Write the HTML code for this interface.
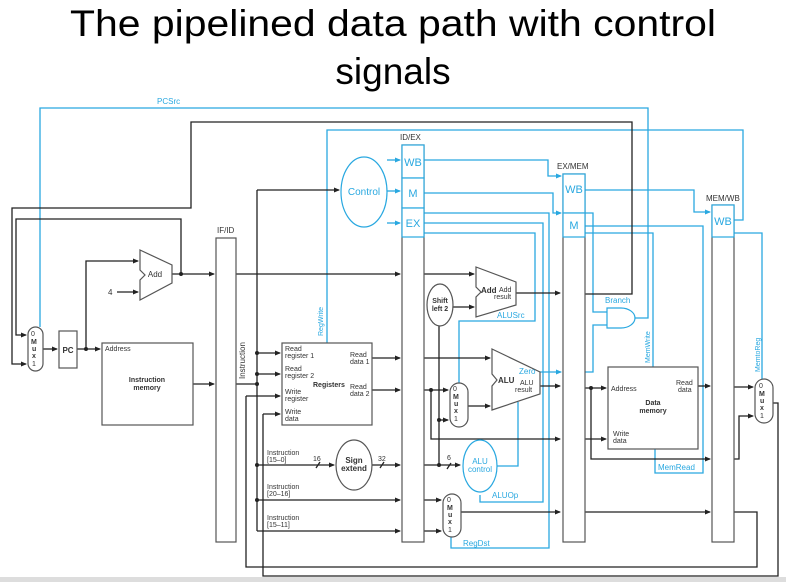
<!DOCTYPE html>
<html><head><meta charset="utf-8"><style>
html,body{margin:0;padding:0;background:#fff;}
svg{display:block;font-family:"Liberation Sans",Arial,sans-serif;}
</style></head><body>
<svg width="786" height="582" viewBox="0 0 786 582" xmlns="http://www.w3.org/2000/svg">
<defs>
<marker id="a" markerWidth="6" markerHeight="6" refX="5" refY="3" orient="auto" markerUnits="userSpaceOnUse"><path d="M0,0.5 L6,3 L0,5.5z" fill="#222"/></marker>
<marker id="b" markerWidth="6" markerHeight="6" refX="5" refY="3" orient="auto" markerUnits="userSpaceOnUse"><path d="M0,0.5 L6,3 L0,5.5z" fill="#29a8e0"/></marker>
</defs>
<rect x="0" y="577" width="786" height="5" fill="#ddd"/>
<text x="393" y="36" font-size="37" text-anchor="middle" textLength="646" lengthAdjust="spacingAndGlyphs">The pipelined data path with control</text>
<text x="393" y="84" font-size="37" text-anchor="middle">signals</text>

<g fill="none" stroke="#29a8e0" stroke-width="1.3">
<path d="M40,327 V108 H648 V318 H635"/>
<path d="M327,343 V130 H743 V220 H734"/>
<path d="M387,160 H400" marker-end="url(#b)"/>
<path d="M387,191 H400" marker-end="url(#b)"/>
<path d="M387,223 H400" marker-end="url(#b)"/>
<path d="M424,160 H548 V176 H561" marker-end="url(#b)"/>
<path d="M424,193 H553 V213 H561" marker-end="url(#b)"/>
<path d="M424,213 H549 V548 H451 V537"/>
<path d="M424,223 H543 V502 H480 V495"/>
<path d="M424,233 H535 V321 H459 V383"/>
<path d="M585,190 H694 V212 H710" marker-end="url(#b)"/>
<path d="M585,213 H593 V312 H607"/>
<path d="M540,372 H561" marker-end="url(#b)"/>
<path d="M585,372 H593 V325 H607"/>
<path d="M585,226 H703 V473 H655 V449"/>
<path d="M585,233 H653 V367"/>
<path d="M734,233 H762 V379"/>
<path d="M497,466 H518 V402"/>
</g>
<g fill="none" stroke="#222" stroke-width="1.3">
<path d="M585,294 H632 V122 H191 V208 H12 V364 H26" marker-end="url(#a)"/>
<path d="M181,274 V219 H16 V335 H26" marker-end="url(#a)"/>
<path d="M43,349 H57" marker-end="url(#a)"/>
<path d="M77,349 H100" marker-end="url(#a)"/>
<path d="M86,349 V261 H138" marker-end="url(#a)"/>
<path d="M117,292 H138" marker-end="url(#a)"/>
<path d="M172,274 H214" marker-end="url(#a)"/>
<path d="M193,384 H214" marker-end="url(#a)"/>
<path d="M236,274 H400" marker-end="url(#a)"/>
<path d="M236,384 H257"/>
<path d="M257,190 V531"/>
<path d="M257,190 H339" marker-end="url(#a)"/>
<path d="M257,353 H280" marker-end="url(#a)"/>
<path d="M257,374 H280" marker-end="url(#a)"/>
<path d="M246,396 H280" marker-end="url(#a)"/>
<path d="M263,414 H280" marker-end="url(#a)"/>
<path d="M372,358 H400" marker-end="url(#a)"/>
<path d="M372,390 H400" marker-end="url(#a)"/>
<path d="M257,465 H334" marker-end="url(#a)"/>
<path d="M372,465 H400" marker-end="url(#a)"/>
<path d="M257,500 H400" marker-end="url(#a)"/>
<path d="M257,531 H400" marker-end="url(#a)"/>
<path d="M424,274 H474" marker-end="url(#a)"/>
<path d="M453,307 H474" marker-end="url(#a)"/>
<path d="M439,326 V465"/>
<path d="M516,293 H560" marker-end="url(#a)"/>
<path d="M424,358 H490" marker-end="url(#a)"/>
<path d="M424,390 H448" marker-end="url(#a)"/>
<path d="M431,390 V439 H560" marker-end="url(#a)"/>
<path d="M439,420 H448" marker-end="url(#a)"/>
<path d="M468,406 H490" marker-end="url(#a)"/>
<path d="M424,465 H460" marker-end="url(#a)"/>
<path d="M424,500 H441" marker-end="url(#a)"/>
<path d="M424,531 H441" marker-end="url(#a)"/>
<path d="M461,512 H560" marker-end="url(#a)"/>
<path d="M540,386 H560" marker-end="url(#a)"/>
<path d="M585,388 H606" marker-end="url(#a)"/>
<path d="M591,388 V459 H710" marker-end="url(#a)"/>
<path d="M585,439 H606" marker-end="url(#a)"/>
<path d="M698,386 H710" marker-end="url(#a)"/>
<path d="M585,512 H710" marker-end="url(#a)"/>
<path d="M734,387 H753" marker-end="url(#a)"/>
<path d="M734,459 H739 V416 H753" marker-end="url(#a)"/>
<path d="M773,403 H778 V576 H263 V414"/>
<path d="M734,512 H757 V567 H246 V396"/>
<path d="M316,468 L320,462 M380,468 L384,462 M447,469 L451,463"/>
</g>
<g fill="#222">
<circle cx="181" cy="274" r="2"/><circle cx="86" cy="349" r="2"/>
<circle cx="257" cy="353" r="2"/><circle cx="257" cy="374" r="2"/><circle cx="257" cy="384" r="2"/>
<circle cx="257" cy="465" r="2"/><circle cx="257" cy="500" r="2"/>
<circle cx="431" cy="390" r="2"/><circle cx="439" cy="420" r="2"/><circle cx="439" cy="465" r="2"/>
<circle cx="591" cy="388" r="2"/>
</g>

<!-- components -->
<g fill="#fff" stroke="#555" stroke-width="1.2">
<rect x="28" y="327" width="15" height="44" rx="7.5"/>
<rect x="59" y="331" width="18" height="37"/>
<rect x="102" y="343" width="91" height="82"/>
<rect x="216" y="238" width="20" height="304"/>
<rect x="282" y="343" width="90" height="82"/>
<rect x="402" y="145" width="22" height="397"/>
<rect x="563" y="174" width="22" height="368"/>
<rect x="712" y="205" width="22" height="337"/>
<rect x="608" y="367" width="90" height="82"/>
<path d="M140,250 L172,265 L172,283 L140,300 L140,280 L145,275 L140,270Z"/>
<path d="M476,267 L516,282 L516,305 L476,317 L476,297 L481,292 L476,287Z"/>
<path d="M492,349 L540,372 L540,394 L492,410 L492,386 L497,380 L492,374Z"/>
<ellipse cx="440" cy="305" rx="13" ry="21"/>
<ellipse cx="354" cy="465" rx="18" ry="25"/>
<rect x="450" y="383" width="18" height="44" rx="9"/>
<rect x="443" y="494" width="18" height="43" rx="9"/>
<rect x="755" y="379" width="18" height="44" rx="9"/>
</g>
<g fill="none" stroke="#29a8e0" stroke-width="1.2">
<rect x="402" y="145" width="22" height="33" fill="#fff"/>
<rect x="402" y="178" width="22" height="30" fill="#fff"/>
<rect x="402" y="208" width="22" height="29" fill="#fff"/>
<rect x="563" y="174" width="22" height="39" fill="#fff"/>
<rect x="563" y="213" width="22" height="24" fill="#fff"/>
<rect x="712" y="205" width="22" height="32" fill="#fff"/>
<ellipse cx="364" cy="192" rx="23" ry="35" fill="#fff"/>
<ellipse cx="480" cy="466" rx="17" ry="26" fill="#fff"/>
<path d="M607,308 H621 A14,10 0 0 1 621,328 H607Z" fill="#fff"/>
</g>

<g font-size="7" fill="#333">
<text x="31" y="336">0</text><text x="31" y="344" font-weight="bold">M</text><text x="32" y="351" font-weight="bold">u</text><text x="32" y="358" font-weight="bold">x</text><text x="32" y="366">1</text>
<text x="68" y="353" text-anchor="middle" font-weight="bold" font-size="8">PC</text>
<text x="105" y="351">Address</text>
<text x="147" y="382" text-anchor="middle" font-weight="bold">Instruction</text>
<text x="147" y="390" text-anchor="middle" font-weight="bold">memory</text>
<text x="155" y="277" text-anchor="middle" font-size="8">Add</text>
<text x="108" y="295" font-size="8">4</text>
<text x="217" y="233" font-size="8">IF/ID</text>
<text x="400" y="140" font-size="8">ID/EX</text>
<text x="557" y="169" font-size="8">EX/MEM</text>
<text x="706" y="201" font-size="8">MEM/WB</text>
<text x="245" y="379" transform="rotate(-90 245 379)" font-size="8">Instruction</text>
<text x="285" y="351">Read</text><text x="285" y="358">register 1</text>
<text x="285" y="371">Read</text><text x="285" y="378">register 2</text>
<text x="285" y="394">Write</text><text x="285" y="401">register</text>
<text x="285" y="414">Write</text><text x="285" y="421">data</text>
<text x="313" y="387" font-weight="bold">Registers</text>
<text x="350" y="357">Read</text><text x="350" y="364">data 1</text>
<text x="350" y="389">Read</text><text x="350" y="396">data 2</text>
<text x="267" y="455">Instruction</text><text x="267" y="462">[15–0]</text>
<text x="267" y="489">Instruction</text><text x="267" y="496">[20–16]</text>
<text x="267" y="520">Instruction</text><text x="267" y="527">[15–11]</text>
<text x="313" y="461">16</text><text x="378" y="461">32</text><text x="447" y="460">6</text>
<text x="354" y="463" text-anchor="middle" font-weight="bold" font-size="8">Sign</text>
<text x="354" y="471" text-anchor="middle" font-weight="bold" font-size="8">extend</text>
<text x="440" y="303" text-anchor="middle" font-weight="bold">Shift</text>
<text x="440" y="311" text-anchor="middle" font-weight="bold">left 2</text>
<text x="481" y="293" font-weight="bold" font-size="8">Add</text>
<text x="499" y="292">Add</text><text x="494" y="299">result</text>
<text x="498" y="383" font-weight="bold" font-size="8">ALU</text>
<text x="520" y="385">ALU</text><text x="515" y="392">result</text>
<text x="453" y="391">0</text><text x="453" y="399" font-weight="bold">M</text><text x="454" y="406" font-weight="bold">u</text><text x="454" y="413" font-weight="bold">x</text><text x="454" y="421">1</text>
<text x="447" y="502">0</text><text x="447" y="510" font-weight="bold">M</text><text x="448" y="517" font-weight="bold">u</text><text x="448" y="524" font-weight="bold">x</text><text x="448" y="532">1</text>
<text x="759" y="388">0</text><text x="759" y="396" font-weight="bold">M</text><text x="760" y="403" font-weight="bold">u</text><text x="760" y="410" font-weight="bold">x</text><text x="760" y="418">1</text>
<text x="611" y="391">Address</text>
<text x="676" y="385">Read</text><text x="678" y="392">data</text>
<text x="653" y="405" text-anchor="middle" font-weight="bold">Data</text>
<text x="653" y="413" text-anchor="middle" font-weight="bold">memory</text>
<text x="613" y="436">Write</text><text x="613" y="443">data</text>
</g>
<g fill="#29a8e0">
<text x="157" y="104" font-size="8">PCSrc</text>
<text x="364" y="195" text-anchor="middle" font-size="10">Control</text>
<text x="413" y="166" text-anchor="middle" font-size="11">WB</text>
<text x="413" y="197" text-anchor="middle" font-size="11">M</text>
<text x="413" y="227" text-anchor="middle" font-size="11">EX</text>
<text x="574" y="193" text-anchor="middle" font-size="11">WB</text>
<text x="574" y="229" text-anchor="middle" font-size="11">M</text>
<text x="723" y="225" text-anchor="middle" font-size="11">WB</text>
<text x="323" y="336" transform="rotate(-90 323 336)" font-size="7">RegWrite</text>
<text x="497" y="318" font-size="8">ALUSrc</text>
<text x="519" y="374" font-size="8">Zero</text>
<text x="480" y="464" text-anchor="middle" font-size="8">ALU</text>
<text x="480" y="472" text-anchor="middle" font-size="8">control</text>
<text x="492" y="498" font-size="8">ALUOp</text>
<text x="463" y="546" font-size="8">RegDst</text>
<text x="605" y="303" font-size="8">Branch</text>
<text x="650" y="363" transform="rotate(-90 650 363)" font-size="7">MemWrite</text>
<text x="658" y="470" font-size="8">MemRead</text>
<text x="760" y="372" transform="rotate(-90 760 372)" font-size="7">MemtoReg</text>
</g>
</svg>
</body></html>
